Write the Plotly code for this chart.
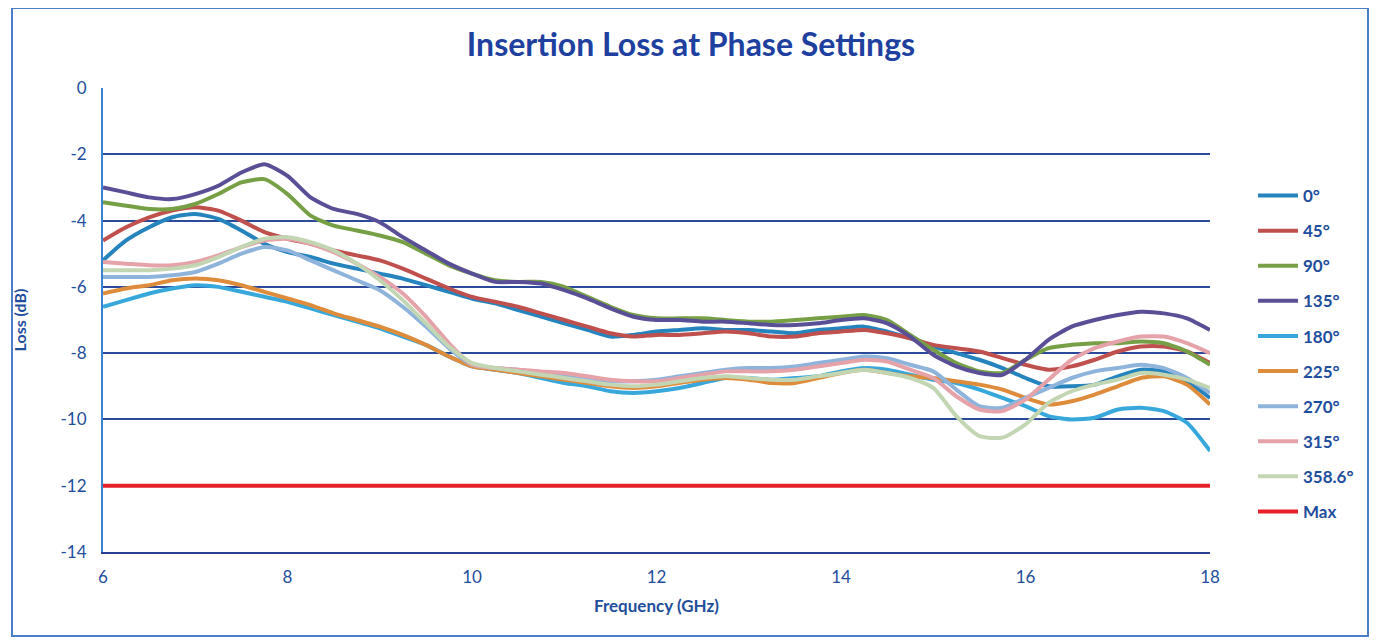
import plotly.graph_objects as go

freq = [6.00, 6.25, 6.50, 6.75, 7.00, 7.25, 7.50, 7.75, 8.00, 8.25, 8.50, 8.75,
        9.00, 9.25, 9.50, 9.75, 10.00, 10.25, 10.50, 10.75, 11.00, 11.25, 11.50, 11.75,
        12.00, 12.25, 12.50, 12.75, 13.00, 13.25, 13.50, 13.75, 14.00, 14.25, 14.50, 14.75,
        15.00, 15.25, 15.50, 15.75, 16.00, 16.25, 16.50, 16.75, 17.00, 17.25, 17.50, 17.75, 18.00]

loss_0 = [-5.2, -4.6, -4.2, -3.9, -3.8, -3.95, -4.3, -4.7, -4.95, -5.1, -5.3, -5.45,
          -5.6, -5.75, -5.95, -6.15, -6.35, -6.5, -6.7, -6.9, -7.1, -7.3, -7.5, -7.45,
          -7.35, -7.3, -7.25, -7.3, -7.3, -7.35, -7.4, -7.3, -7.25, -7.2, -7.35, -7.55,
          -7.8, -8.0, -8.2, -8.45, -8.75, -9.0, -9.0, -8.95, -8.7, -8.5, -8.55, -8.85, -9.35]
loss_45 = [-4.6, -4.2, -3.9, -3.7, -3.6, -3.7, -4.0, -4.35, -4.55, -4.7, -4.9, -5.05,
           -5.2, -5.45, -5.75, -6.05, -6.3, -6.45, -6.6, -6.8, -7.0, -7.2, -7.4, -7.5,
           -7.45, -7.45, -7.4, -7.35, -7.4, -7.5, -7.5, -7.4, -7.35, -7.3, -7.4, -7.55,
           -7.75, -7.85, -7.95, -8.15, -8.35, -8.5, -8.4, -8.2, -7.95, -7.8, -7.8, -7.95, -8.3]
loss_90 = [-3.45, -3.55, -3.65, -3.65, -3.5, -3.2, -2.85, -2.75, -3.2, -3.85, -4.15, -4.3,
           -4.45, -4.65, -5.0, -5.35, -5.6, -5.8, -5.85, -5.85, -6.0, -6.3, -6.6, -6.85,
           -6.95, -6.95, -6.95, -7.0, -7.05, -7.05, -7.0, -6.95, -6.9, -6.85, -7.0, -7.45,
           -7.9, -8.3, -8.55, -8.6, -8.2, -7.85, -7.75, -7.7, -7.7, -7.65, -7.7, -7.95, -8.35]
loss_135 = [-3.0, -3.15, -3.3, -3.35, -3.2, -2.95, -2.55, -2.3, -2.65, -3.3, -3.65, -3.8,
            -4.05, -4.5, -4.9, -5.3, -5.6, -5.85, -5.85, -5.9, -6.1, -6.35, -6.65, -6.9,
            -7.0, -7.0, -7.05, -7.05, -7.1, -7.15, -7.15, -7.1, -7.0, -6.95, -7.1, -7.5,
            -8.05, -8.4, -8.6, -8.65, -8.2, -7.6, -7.2, -7.0, -6.85, -6.75, -6.8, -6.95, -7.3]
loss_180 = [-6.6, -6.4, -6.2, -6.05, -5.95, -6.0, -6.15, -6.3, -6.45, -6.65, -6.85, -7.05,
            -7.25, -7.5, -7.75, -8.1, -8.4, -8.5, -8.6, -8.75, -8.9, -9.0, -9.15, -9.2,
            -9.15, -9.05, -8.9, -8.75, -8.75, -8.8, -8.75, -8.7, -8.55, -8.45, -8.5, -8.65,
            -8.8, -8.9, -9.1, -9.35, -9.6, -9.9, -10.0, -9.95, -9.7, -9.65, -9.75, -10.1, -10.95]
loss_225 = [-6.2, -6.05, -5.95, -5.8, -5.75, -5.8, -5.95, -6.15, -6.35, -6.55, -6.8, -7.0,
            -7.2, -7.45, -7.75, -8.1, -8.4, -8.5, -8.6, -8.7, -8.8, -8.9, -9.0, -9.05,
            -9.0, -8.9, -8.8, -8.75, -8.8, -8.9, -8.9, -8.75, -8.6, -8.5, -8.6, -8.7,
            -8.75, -8.85, -8.95, -9.1, -9.35, -9.55, -9.45, -9.25, -9.0, -8.75, -8.7, -8.95, -9.55]
loss_270 = [-5.7, -5.7, -5.7, -5.65, -5.55, -5.3, -5.0, -4.8, -4.9, -5.2, -5.5, -5.8,
            -6.1, -6.6, -7.2, -7.85, -8.35, -8.45, -8.5, -8.6, -8.7, -8.8, -8.85, -8.85,
            -8.8, -8.7, -8.6, -8.5, -8.45, -8.45, -8.4, -8.3, -8.2, -8.1, -8.15, -8.35,
            -8.55, -9.1, -9.6, -9.65, -9.35, -9.05, -8.75, -8.55, -8.45, -8.35, -8.45, -8.75, -9.2]
loss_315 = [-5.25, -5.3, -5.35, -5.35, -5.25, -5.05, -4.8, -4.6, -4.55, -4.7, -4.95, -5.3,
            -5.7, -6.2, -6.9, -7.7, -8.35, -8.45, -8.5, -8.55, -8.6, -8.7, -8.8, -8.85,
            -8.85, -8.75, -8.65, -8.55, -8.55, -8.55, -8.5, -8.4, -8.3, -8.2, -8.25, -8.5,
            -8.75, -9.3, -9.7, -9.75, -9.4, -8.8, -8.2, -7.85, -7.65, -7.5, -7.5, -7.7, -8.0]
loss_358 = [-5.5, -5.5, -5.5, -5.45, -5.35, -5.1, -4.8, -4.55, -4.5, -4.65, -4.9, -5.3,
            -5.8, -6.4, -7.1, -7.8, -8.3, -8.45, -8.55, -8.65, -8.75, -8.85, -8.95, -9.0,
            -8.95, -8.85, -8.75, -8.7, -8.75, -8.8, -8.8, -8.7, -8.6, -8.5, -8.6, -8.75,
            -9.05, -9.9, -10.5, -10.55, -10.15, -9.5, -9.15, -8.95, -8.8, -8.6, -8.65, -8.8, -9.05]
max_limit = -12.0

series_names = ["0°", "45°", "90°", "135°", "180°", "225°", "270°", "315°", "358.6°"]
series_values = [loss_0, loss_45, loss_90, loss_135, loss_180, loss_225, loss_270, loss_315, loss_358]
series_colors = ["#2583bd", "#c0504d", "#77a046", "#594f96", "#38a8dc", "#de8c3c",
                 "#8fb4dc", "#e6a2a9", "#c3d6b3"]

x_ticks = [6, 8, 10, 12, 14, 16, 18]
y_ticks = [0, -2, -4, -6, -8, -10, -12, -14]

TEXT = "#1f4e9c"
FONT = "Lato"

fig = go.Figure()
for i, (name, vals, col) in enumerate(zip(series_names, series_values, series_colors)):
    fig.add_trace(go.Scatter(x=freq, y=vals, mode="lines", name=f"<b>{name}</b>",
                             line=dict(color=col, width=4, shape="spline", smoothing=0.6),
                             legendgroup=f"g{i}"))
fig.add_trace(go.Scatter(x=[freq[0], freq[-1]], y=[max_limit, max_limit], mode="lines",
                         name="<b>Max</b>", line=dict(color="#e8202a", width=4), legendgroup="gmax"))

# page body has an 8px margin: work in screen pixels, figure is offset by 8
OFF = 8
W, H = 1377 - OFF, 644 - OFF
L, R, T, B = 103, 1210, 88, 552  # plot area in screen px
def px(x): return (x - L) / (R - L)
def py(y): return (B - y) / (B - T)

fig.add_shape(type="rect", xref="paper", yref="paper",
              x0=px(12), x1=px(1368), y0=py(636), y1=py(8),
              line=dict(color="#4a7fc8", width=2), layer="below")

fig.update_layout(
    width=W, height=H,
    margin=dict(l=L - OFF, r=W - (R - OFF), t=T - OFF, b=H - (B - OFF)),
    paper_bgcolor="white", plot_bgcolor="white",
    font=dict(family=FONT, color=TEXT),
    title=dict(text="<b>Insertion Loss at Phase Settings</b>", x=px(691), xref="paper",
               xanchor="center", y=1 - (45 - OFF) / H, yanchor="middle",
               font=dict(size=32, color="#2040a0", family=FONT)),
    xaxis=dict(range=[6, 18], tickvals=x_ticks, ticktext=[str(v) for v in x_ticks],
               showgrid=False, zeroline=False, showline=True, linecolor="#2a3f8f", linewidth=2,
               ticks="", ticklabelstandoff=9, tickfont=dict(size=17, color=TEXT, family=FONT),
               title=dict(text="<b>Frequency (GHz)</b>", font=dict(size=17, color=TEXT, family=FONT),
                          standoff=14)),
    yaxis=dict(range=[-14, 0], tickvals=y_ticks, ticktext=[str(v) for v in y_ticks],
               showgrid=True, gridcolor="#2c4a9a", gridwidth=2, zeroline=False,
               showline=True, linecolor="#3a82d4", linewidth=2, ticks="",
               ticklabelstandoff=11, tickfont=dict(size=17, color=TEXT, family=FONT),
               title=dict(text="<b>Loss (dB)</b>", font=dict(size=16, color=TEXT, family=FONT),
                          standoff=30)),
    legend=dict(x=px(1253), y=py(178), xanchor="left", yanchor="top",
                font=dict(size=17, color=TEXT, family=FONT), tracegroupgap=10,
                bgcolor="rgba(0,0,0,0)", itemwidth=40),
    showlegend=True,
)

fig.write_html("out.html")
